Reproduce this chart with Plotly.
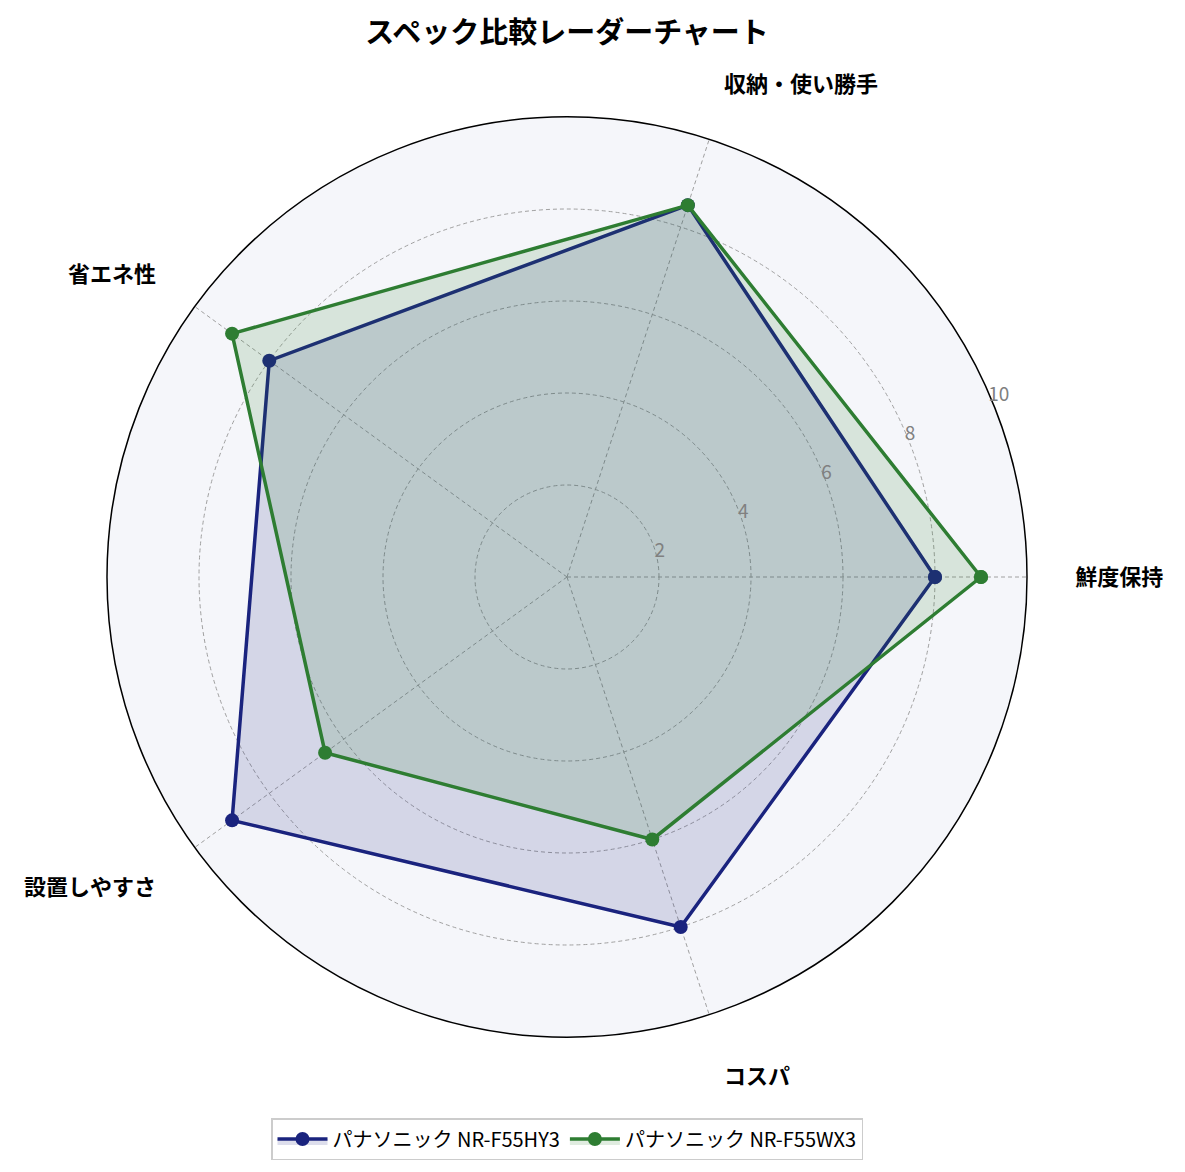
import plotly.graph_objects as go

# Radar chart data
categories = ["鮮度保持", "収納・使い勝手", "省エネ性", "設置しやすさ", "コスパ"]
series_names = ["パナソニック NR-F55HY3", "パナソニック NR-F55WX3"]
hy3_values = [8.0, 8.5, 8.0, 9.0, 8.0]
wx3_values = [9.0, 8.5, 9.0, 6.5, 6.0]
radial_ticks = [2, 4, 6, 8, 10]

line_colors = ["#1a237e", "#2e7d32"]
fill_colors = ["rgba(26,35,126,0.15)", "rgba(46,125,50,0.15)"]

FONT = "Noto Sans CJK JP"

fig = go.Figure()

for name, values, lc, fc in zip(series_names, [hy3_values, wx3_values],
                                line_colors, fill_colors):
    # close the polygon
    fig.add_trace(go.Scatterpolar(
        r=values + values[:1],
        theta=categories + categories[:1],
        name=name,
        mode="lines+markers",
        fill="toself",
        fillcolor=fc,
        line=dict(color=lc, width=3.5),
        marker=dict(color=lc, size=14),
    ))

fig.update_layout(
    width=1185,
    height=1172,
    paper_bgcolor="white",
    font=dict(family=FONT, color="black"),
    margin=dict(l=99, r=166, t=109, b=143),
    title=dict(
        text="<b>スペック比較レーダーチャート</b>",
        xref="paper", x=0.5, xanchor="center",
        y=1 - 25 / 1172, yanchor="middle",
        font=dict(size=29, family=FONT, color="black"),
    ),
    polar=dict(
        bgcolor="#f5f6fa",
        domain=dict(x=[0, 1], y=[0, 1]),
        radialaxis=dict(
            range=[0, 10],
            tickvals=radial_ticks,
            angle=25,
            tickangle=25,
            side="clockwise",
            showline=False,
            ticks="",
            tickfont=dict(size=19, color="#808080", family=FONT),
            gridcolor="#a0a0a0",
            griddash="4px,3px",
            gridwidth=1,
        ),
        angularaxis=dict(
            rotation=0,
            direction="counterclockwise",
            showline=True,
            linecolor="black",
            linewidth=1.5,
            gridcolor="#a0a0a0",
            griddash="4px,3px",
            gridwidth=1,
            ticks="outside",
            ticklen=43,
            tickcolor="rgba(0,0,0,0)",
            tickfont=dict(size=22, color="black", family=FONT, weight="bold"),
        ),
    ),
    legend=dict(
        orientation="h",
        x=0.5, xanchor="center",
        y=-(1131 - 1029) / 920, yanchor="middle",
        itemwidth=50,
        bordercolor="#cccccc",
        borderwidth=1.5,
        bgcolor="white",
        font=dict(size=20, family=FONT, color="black"),
    ),
)

fig.write_html("out.html")
